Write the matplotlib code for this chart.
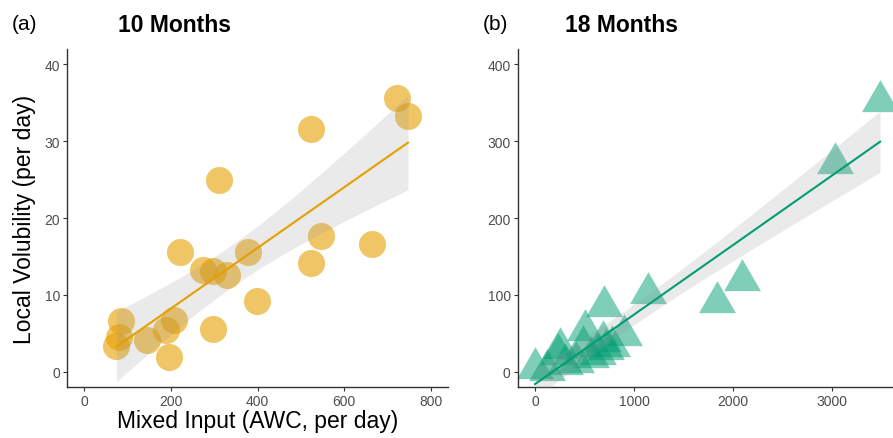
import numpy as np
import matplotlib
matplotlib.use('Agg')
import matplotlib.pyplot as plt

plt.rcParams['font.family'] = ['Liberation Sans', 'DejaVu Sans']

# (a) 10 months
awc_10 = [721, 747, 524, 311, 220, 378, 546, 663, 523, 273, 298,
          330, 399, 298, 195, 208, 189, 144, 84, 74, 80]
vol_10 = [35.6, 33.3, 31.6, 24.9, 15.6, 15.6, 17.6, 16.6, 14.2, 13.3, 13.1,
          12.6, 9.2, 5.6, 1.9, 6.7, 5.4, 4.1, 6.6, 3.4, 4.5]

# (b) 18 months
awc_18 = [3484, 3025, 2087, 1836, 1137, 695, 501, 903, 685, 251,
          485, 720, 780, 568, 0, 117, 300, 230, 640, 410]
vol_18 = [352, 272, 119, 91, 102, 85, 54, 48, 40, 31,
          33, 29, 33, 19, 5, 2, 10, 23, 23, 13]

xticks_10 = [0, 200, 400, 600, 800]
yticks_10 = [0, 10, 20, 30, 40]
xticks_18 = [0, 1000, 2000, 3000]
yticks_18 = [0, 100, 200, 300, 400]

ORANGE = '#E69F00'
GREEN = '#009E73'
T975 = 2.1  # t quantile, ~19 df


def lm_band(x, y, n_grid=80):
    x = np.asarray(x, float); y = np.asarray(y, float)
    b, a = np.polyfit(x, y, 1)
    resid = y - (a + b * x)
    s = np.sqrt((resid ** 2).sum() / (len(x) - 2))
    xs = np.linspace(x.min(), x.max(), n_grid)
    se = s * np.sqrt(1 / len(x) + (xs - x.mean()) ** 2 / ((x - x.mean()) ** 2).sum())
    fit = a + b * xs
    return xs, fit, fit - T975 * se, fit + T975 * se


def style(ax):
    for side in ['top', 'right']:
        ax.spines[side].set_visible(False)
    for side in ['left', 'bottom']:
        ax.spines[side].set_color('#333333')
        ax.spines[side].set_linewidth(1.0)
    ax.tick_params(colors='#333333', labelcolor='#4D4D4D', labelsize=10,
                   length=3, width=0.8, pad=2)


fig = plt.figure(figsize=(8.93, 4.39), dpi=100)
ax1 = fig.add_axes([0.075, 0.116, 0.427, 0.770])
ax2 = fig.add_axes([0.5797, 0.116, 0.427, 0.770])

# equilateral triangle centred on its centroid (like R's pch 17)
tri = [(0, 1), (-0.866, -0.5), (0.866, -0.5), (0, 1)]

ax1.scatter(awc_10, vol_10, s=380, color=ORANGE, alpha=0.6, linewidths=0, zorder=2)
xs, fit, lo, hi = lm_band(awc_10, vol_10)
ax1.fill_between(xs, lo, hi, color='#999999', alpha=0.2, linewidth=0, zorder=3)
ax1.plot(xs, fit, color=ORANGE, lw=1.5, zorder=4)
ax1.set_xlim(-40, 840); ax1.set_ylim(-2, 42)
ax1.set_xticks(xticks_10); ax1.set_yticks(yticks_10)
ax1.set_xlabel('Mixed Input (AWC, per day)', fontsize=16.5, labelpad=1)
ax1.set_ylabel('Local Volubility (per day)', fontsize=16.5, labelpad=6)
style(ax1)

ax2.scatter(awc_18, vol_18, s=940, marker=tri, color=GREEN, alpha=0.5,
            linewidths=0, zorder=2, clip_on=False)
xs, fit, lo, hi = lm_band(awc_18, vol_18)
ax2.fill_between(xs, lo, hi, color='#999999', alpha=0.2, linewidth=0, zorder=3)
ax2.plot(xs, fit, color=GREEN, lw=1.5, zorder=4)
ax2.set_xlim(-175, 3675); ax2.set_ylim(-20, 420)
ax2.set_xticks(xticks_18); ax2.set_yticks(yticks_18)
style(ax2)

fig.text(12 / 893, 1 - 25 / 439, '(a)', fontsize=15, va='center', ha='left')
fig.text(118 / 893, 1 - 25 / 439, '10 Months', fontsize=16.5, fontweight='bold',
         va='center', ha='left')
fig.text(483 / 893, 1 - 25 / 439, '(b)', fontsize=15, va='center', ha='left')
fig.text(565 / 893, 1 - 25 / 439, '18 Months', fontsize=16.5, fontweight='bold',
         va='center', ha='left')

fig.savefig('out.png', dpi=100)
